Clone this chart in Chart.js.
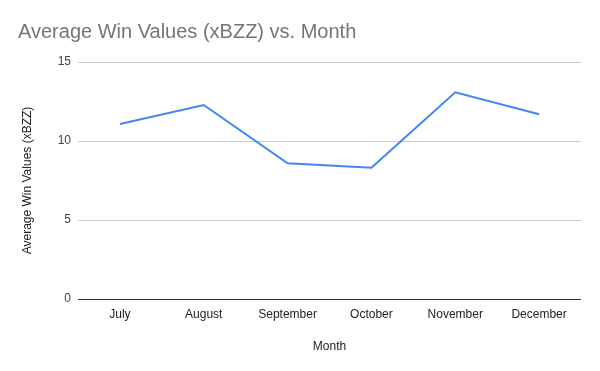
<!DOCTYPE html>
<html>
<head>
<meta charset="utf-8">
<script src="https://cdn.jsdelivr.net/npm/chart.js@4"></script>
<style>
  body { margin: 0; background: #fff; }
  #wrap { width: 600px; height: 371px; }
</style>
</head>
<body>
<div id="wrap"><canvas id="winChart" width="600" height="371"></canvas></div>
<script>
// data
const months = ["July", "August", "September", "October", "November", "December"];
const avgWinValues = [11.07, 12.28, 8.59, 8.31, 13.08, 11.69];
const yTicks = [0, 5, 10, 15];

const FONT = "'Liberation Sans', Arial, sans-serif";

var ctx = document.getElementById("winChart").getContext("2d");
var winChart = new Chart(ctx, {
  type: "line",
  data: {
    labels: months,
    datasets: [
      {
        label: "Average Win Values (xBZZ)",
        data: avgWinValues,
        borderColor: "#4285f4",
        backgroundColor: "#4285f4",
        borderWidth: 2,
        pointRadius: 0,
        tension: 0,
      },
    ],
  },
  options: {
    responsive: false,
    animation: false,
    layout: { padding: { left: 18, right: 19, top: 0, bottom: 0 } },
    plugins: {
      legend: { display: false },
      tooltip: { enabled: false },
      title: {
        display: true,
        text: "Average Win Values (xBZZ) vs. Month",
        align: "start",
        color: "#757575",
        font: { family: FONT, size: 20, weight: "normal" },
        padding: { top: 20, bottom: 18 },
      },
    },
    scales: {
      x: {
        offset: true,
        grid: { display: false, drawTicks: false },
        border: { display: false },
        ticks: {
          color: "#222",
          padding: 8,
          maxRotation: 0,
          font: { family: FONT, size: 12 },
        },
        title: {
          display: true,
          text: "Month",
          color: "#222",
          font: { family: FONT, size: 12 },
          padding: { top: 4, bottom: 17 },
        },
        afterFit: (scale) => {
          scale.height = 72;
        },
      },
      y: {
        min: 0,
        max: 15,
        afterBuildTicks: (scale) => {
          scale.ticks = yTicks.map((v) => ({ value: v }));
        },
        grid: {
          drawTicks: false,
          color: (c) => (c.tick && c.tick.value === 0 ? "#333333" : "#cccccc"),
          lineWidth: 1,
        },
        border: { display: false },
        ticks: {
          color: "#444",
          padding: 7,
          font: { family: FONT, size: 12 },
        },
        title: {
          display: true,
          text: "Average Win Values (xBZZ)",
          color: "#222",
          font: { family: FONT, size: 12 },
          padding: { top: 2, bottom: 0 },
        },
        afterFit: (scale) => {
          scale.width = 60;
        },
      },
    },
  },
});
</script>
</body>
</html>
